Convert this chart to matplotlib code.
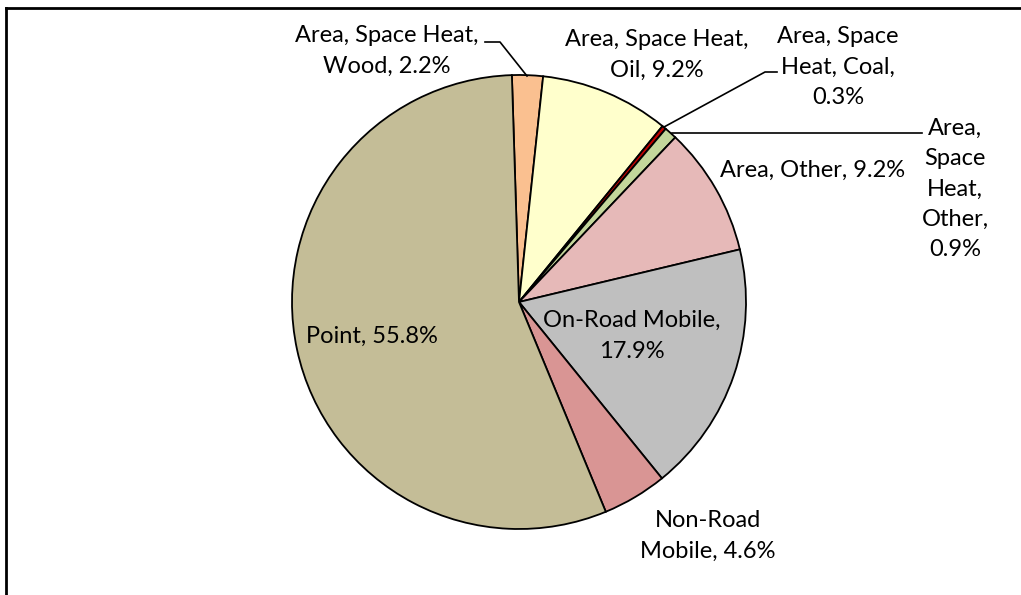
import matplotlib
matplotlib.use("Agg")
import matplotlib.pyplot as plt
from matplotlib.lines import Line2D

# ---- data ----
categories = ["Area, Space Heat, Wood", "Area, Space Heat, Oil", "Area, Space Heat, Coal",
              "Area, Space Heat, Other", "Area, Other", "On-Road Mobile",
              "Non-Road Mobile", "Point"]
values = [2.2, 9.2, 0.3, 0.9, 9.2, 17.9, 4.6, 55.8]
label_texts = ["Area, Space Heat,\nWood, {v}%", "Area, Space Heat,\nOil, {v}%",
               "Area, Space\nHeat, Coal,\n{v}%", "Area,\nSpace\nHeat,\nOther,\n{v}%",
               "Area, Other, {v}%", "On-Road Mobile,\n{v}%", "Non-Road\nMobile, {v}%",
               "Point, {v}%"]
colors = ["#FAC090", "#FFFFCC", "#C00000", "#C3D69B", "#E6B9B8", "#BFBFBF", "#D99594", "#C4BD97"]

W, H = 1021, 595
fig = plt.figure(figsize=(W / 100, H / 100), dpi=100)
ax = fig.add_axes([0, 0, 1, 1])

def Y(y):
    return H - y

cx, cy, r = 519, 302, 227
ax.pie(values, colors=colors, startangle=91.8, counterclock=False,
       center=(cx, Y(cy)), radius=r, frame=True,
       wedgeprops=dict(edgecolor="black", linewidth=1.3))
ax.set_xlim(0, W)
ax.set_ylim(0, H)
ax.set_aspect("equal")
ax.axis("off")

# label positions (pixel coords, centre of text block)
pos = [(387, 51), (657, 55), (838, 67), (955, 189), (813, 170), (632, 336), (708, 536), (372, 336)]
fs = 17
for txt, v, (x, y) in zip(label_texts, values, pos):
    ax.text(x, Y(y), txt.format(v=v), ha="center", va="center", fontsize=fs,
            family="Lato", linespacing=1.55, color="black")

# leader lines
leaders = [
    [(485, 42), (500, 42), (527, 76)],
    [(777, 72), (765, 72), (664, 127)],
    [(922, 133), (672, 133)],
]
for pts in leaders:
    xs = [p[0] for p in pts]
    ys = [Y(p[1]) for p in pts]
    ax.plot(xs, ys, color="black", lw=1.2)

# outer frame (top and left)
fig.add_artist(Line2D([6 / W, 1], [1 - 8 / H, 1 - 8 / H], transform=fig.transFigure, color="black", lw=2))
fig.add_artist(Line2D([6 / W, 6 / W], [0, 1 - 8 / H], transform=fig.transFigure, color="black", lw=2))

fig.savefig("out.png", dpi=100, facecolor="white")
